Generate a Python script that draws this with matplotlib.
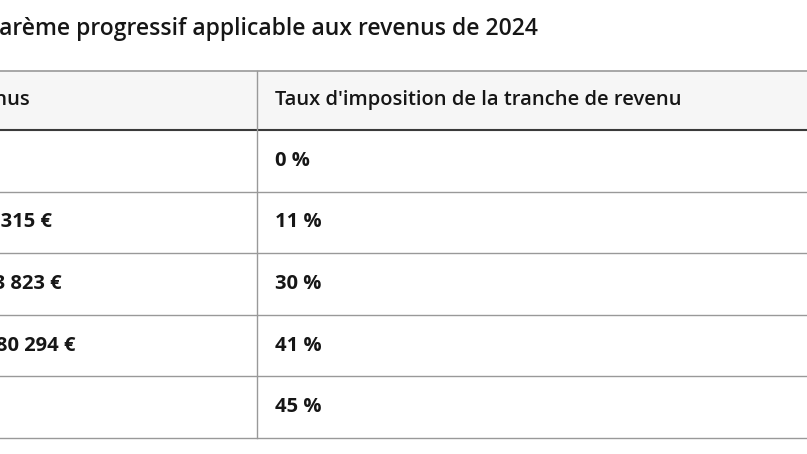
import matplotlib.pyplot as plt

title = "Barème progressif applicable aux revenus de 2024"
header = ["Tranches de revenus", "Taux d'imposition de la tranche de revenu"]
tranches = ["Jusqu'à 11 497 €", "De 11 498 € à 29 315 €", "De 29 316 € à 83 823 €",
            "De 83 824 € à 180 294 €", "Plus de 180 294 €"]
taux = ["0 %", "11 %", "30 %", "41 %", "45 %"]

W, H = 807, 454
fig = plt.figure(figsize=(W / 100, H / 100), dpi=100)
ax = fig.add_axes([0, 0, 1, 1])
ax.set_xlim(0, W)
ax.set_ylim(H, 0)
ax.axis("off")

font = "Open Sans"
dark = "#161616"

ax.text(538, 29, title, ha="right", va="center", fontsize=16.5, fontweight="semibold",
        family=font, color=dark, clip_on=True)

# header
top, hb = 71, 130
ax.fill_between([0, W], top, hb, color="#f6f6f6", zorder=0)
ax.plot([0, W], [top, top], color="#999999", lw=1.2)
ax.plot([0, W], [hb, hb], color="#3a3a3a", lw=1.5)
ax.text(30, 100, header[0], ha="right", va="center", fontsize=14.5, fontweight="medium",
        family=font, color=dark, clip_on=True)
ax.text(275, 100, header[1], ha="left", va="center", fontsize=14.5, fontweight="medium",
        family=font, color=dark)

row_h = 61.6
left_ends = [-40, 52, 62, 76, -40]
for i, (t, r) in enumerate(zip(tranches, taux)):
    y0 = hb + i * row_h
    yc = y0 + row_h / 2
    ax.plot([0, W], [y0 + row_h, y0 + row_h], color="#999999", lw=1)
    ax.text(left_ends[i], yc, t, ha="right", va="center", fontsize=14.5, fontweight="bold",
            family=font, color=dark, clip_on=True)
    ax.text(275, yc, r, ha="left", va="center", fontsize=14.5, fontweight="bold",
            family=font, color=dark)

ax.plot([257, 257], [top, hb + 5 * row_h], color="#999999", lw=1)

fig.savefig("out.png", dpi=100, facecolor="white")
